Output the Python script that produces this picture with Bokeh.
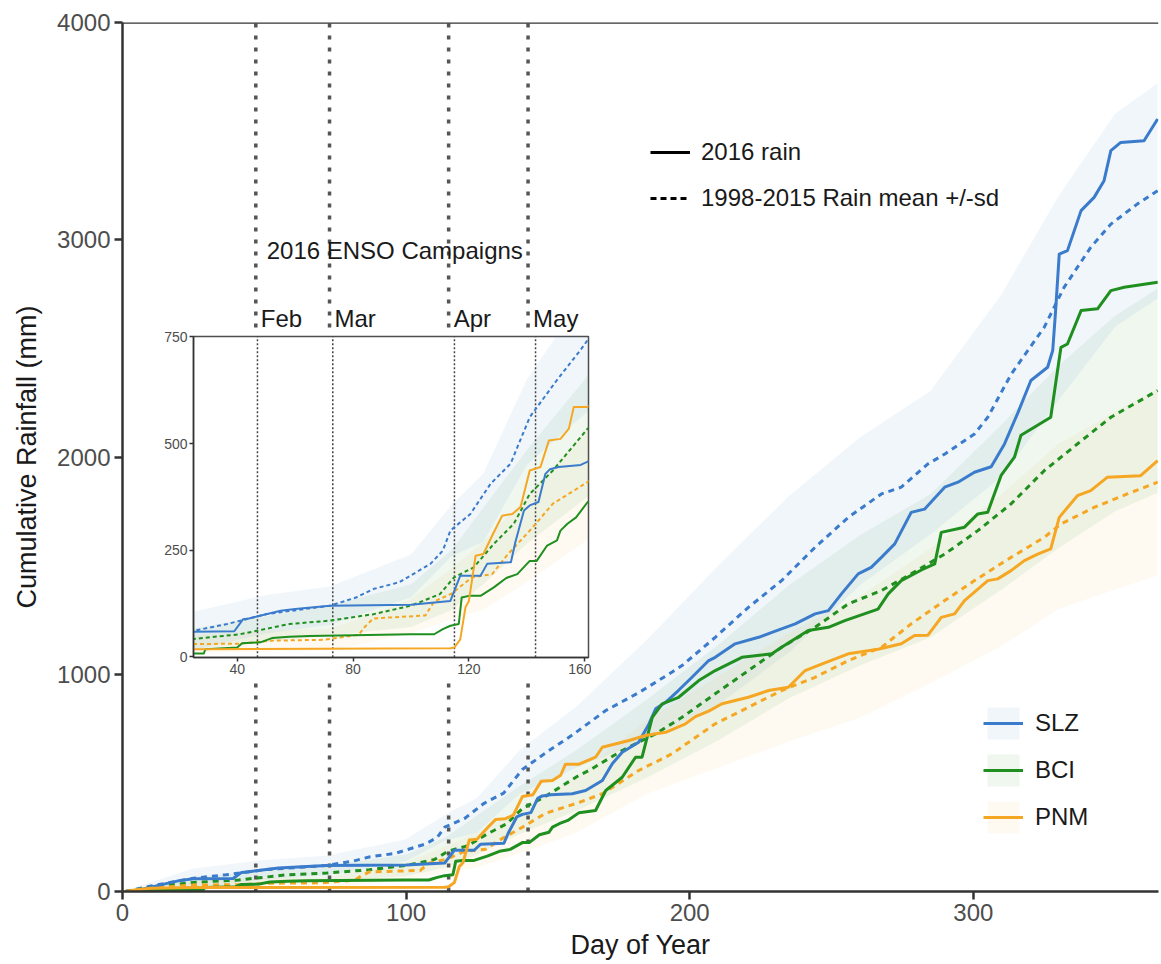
from bokeh.plotting import figure
from bokeh.models import Range1d, Span, Legend, LegendItem, FixedTicker, Label
from bokeh.layouts import column
from bokeh.embed import file_html
from bokeh.resources import INLINE
from bokeh.core.properties import value

FONT = "Liberation Sans"
NAN = float("nan")

stations = ["SLZ", "BCI", "PNM"]
colors = {"SLZ": "#3a7bcc", "BCI": "#1f8f1f", "PNM": "#f5a623"}
band_alpha = {"SLZ": 0.07, "BCI": 0.07, "PNM": 0.06}

# ENSO field campaigns (day of year) and month names
campaign_days = [47, 73, 115, 143]
campaign_months = ["Feb", "Mar", "Apr", "May"]

main_x_ticks = [0, 100, 200, 300]
main_y_ticks = [0, 1000, 2000, 3000, 4000]
inset_x_ticks = [40, 80, 120, 160]
inset_y_ticks = [0, 250, 500, 750]

# 2016 cumulative rainfall (mm)
slz_2016_day = [1, 5, 10, 15, 20, 25, 39, 42, 44, 50, 55, 60, 72, 100, 113.6, 114.5, 117, 124,
                126.3, 134.5, 136, 139, 141, 144, 146.4, 148, 151, 158.6, 163.3, 169.2, 172.7, 176.2,
                182, 185.6, 188, 191.5, 196, 200.8, 206.7, 209, 216, 224.3, 229, 237.2, 244.2, 248.9,
                253.5, 259.4, 264, 267.6, 272.3, 278.1, 282.8, 289.9, 294.6, 300.4, 306.3, 311, 315.6,
                320.3, 326.2, 328, 329.1, 330.3, 333.2, 338, 342.6, 346.1, 348.5, 352, 360.2, 365]
slz_2016_mm = [0, 5, 20, 35, 50, 59, 60, 88, 90, 100, 108, 112, 120, 122, 131, 147, 190, 190,
               218, 222, 268, 343, 355, 363, 429, 440, 445, 450, 465, 511, 588, 641,
               687, 770, 841, 871, 925, 986, 1063, 1078, 1140, 1170, 1193, 1232, 1278, 1293,
               1370, 1462, 1492, 1538, 1600, 1745, 1760, 1861, 1884, 1930, 1955, 2060, 2200,
               2352, 2413, 2490, 2689, 2934, 2950, 3134, 3195, 3272, 3410, 3448, 3456, 3556]

bci_2016_day = [1, 10, 20, 25, 28.5, 29, 40, 41.7, 48, 52, 58, 65, 100, 108, 111, 113.6, 116.5, 117.5,
                120, 124, 128.6, 132.9, 136.7, 141, 143.4, 147, 150.4, 151.6, 154, 157, 161, 166.8,
                170.4, 176.2, 180.9, 183.2, 186.8, 190.3, 196.1, 203.2, 209, 218.4, 229, 232.4, 241.8,
                248.9, 254.7, 266.4, 270, 274.6, 281.7, 286.4, 288.7, 296.9, 301.6, 305.1, 309.8,
                314.5, 316.8, 321.5, 327.3, 330.9, 333.2, 338, 343.8, 348.5, 353.2, 365]
bci_2016_mm = [0, 3, 6, 8, 8, 18, 22, 32, 34, 44, 47, 49, 53, 53, 65, 73, 77, 139,
               143, 143, 163, 185, 194, 225, 225, 261, 273, 296, 312, 327, 363, 373,
               465, 526, 618, 618, 802, 864, 894, 971, 1017, 1078, 1094, 1124, 1201,
               1216, 1247, 1300, 1370, 1431, 1480, 1508, 1653, 1677, 1738, 1746, 1915,
               1999, 2100, 2137, 2183, 2505, 2520, 2674, 2682, 2766, 2781, 2804]

pnm_2016_day = [1, 5, 10, 25, 113.6, 115, 117, 118.8, 120, 122.3, 125, 128.6, 131.5, 135, 137.8,
                141, 144.7, 147.6, 151.6, 154.5, 156.2, 161, 166.8, 169.2, 178.6, 184.4, 191.5,
                198.5, 202, 206.7, 211.4, 220.7, 227.8, 234.8, 240.7, 246.5, 255.9, 266.4, 274.6,
                279.3, 284, 288.7, 293.4, 296.9, 305.1, 308.6, 313.3, 318, 322.7, 327.3, 330.3,
                336.7, 341.4, 347.3, 359, 365]
pnm_2016_mm = [0, 8, 15, 18, 20, 22, 41, 116, 131, 237, 241, 292, 331, 335, 351,
               437, 445, 507, 511, 535, 586, 586, 618, 664, 695, 718, 733,
               772, 805, 830, 864, 894, 925, 940, 1017, 1047, 1094, 1115, 1140,
               1178, 1180, 1262, 1278, 1339, 1431, 1439, 1477, 1523, 1553, 1577, 1722,
               1822, 1845, 1907, 1914, 1983]

# 1998-2015 mean cumulative rainfall (mm)
slz_mean_day = [1, 10, 25, 36.5, 50, 72, 81, 87, 96, 106.7, 111, 113.6, 120.5, 127.5, 134.4, 141,
                150.4, 158.6, 170.4, 182, 193.8, 197.3, 209, 220.7, 232.4, 244.2, 255.9, 267.6,
                274.6, 284, 290, 300.4, 305.1, 313.3, 325, 332, 341.4, 348.5, 357.8, 365]
slz_mean_mm = [0, 25, 61, 77, 100, 120, 139, 159, 175, 218, 249, 296, 335, 406, 453, 562,
               649, 720, 833, 915, 1010, 1040, 1170, 1308, 1431, 1584, 1722, 1830,
               1861, 1968, 2014, 2106, 2183, 2380, 2597, 2781, 2965, 3072, 3164, 3226]

bci_mean_day = [1, 10, 25, 41, 58, 72, 87, 100, 110, 114.8, 121.7, 128.6, 135.5, 141, 149, 161,
                164.5, 176.2, 188, 197.3, 209, 220.7, 232.4, 244.2, 255.9, 267.6, 278.1, 289.9,
                301.6, 313.3, 325, 336.7, 348.5, 365]
bci_mean_mm = [0, 20, 42, 53, 77, 85, 100, 120, 147, 186, 210, 265, 312, 382, 437, 535,
               557, 649, 726, 802, 910, 1017, 1124, 1216, 1324, 1385, 1462, 1553,
               1661, 1784, 1937, 2060, 2183, 2306]

pnm_mean_day = [1, 10, 25, 41, 52, 70, 82, 84, 87, 105, 108, 114, 121, 128, 133, 141, 149, 161,
                169.2, 182, 193.8, 209, 220.7, 232.4, 244.2, 255.9, 267.6, 278.1, 289.9, 300.4,
                313.3, 325, 330.9, 342.6, 354.3, 365]
pnm_mean_mm = [0, 15, 30, 31, 38, 40, 52, 70, 90, 97, 130, 148, 186, 194, 237, 296, 359, 410,
               450, 557, 634, 772, 848, 925, 986, 1063, 1124, 1232, 1339, 1431,
               1538, 1630, 1692, 1768, 1830, 1884]

# mean -/+ sd envelopes (mm)
band_day = [1, 25, 50, 72, 100, 114, 125, 140, 160, 185, 210, 235, 260, 285, 310, 330, 350, 365]
slz_band_lo = [0, 16, 55, 75, 140, 236, 270, 450, 570, 700, 860, 1100, 1410, 1645, 1910, 2260, 2600, 2730]
slz_band_hi = [5, 106, 145, 165, 240, 356, 430, 650, 850, 1160, 1500, 1820, 2090, 2305, 2750, 3200, 3580, 3720]
bci_band_lo = [0, 17, 35, 50, 70, 110, 170, 265, 370, 525, 695, 890, 1040, 1170, 1390, 1580, 1750, 1836]
bci_band_hi = [3, 67, 95, 120, 170, 250, 350, 485, 650, 885, 1135, 1410, 1640, 1830, 2150, 2420, 2650, 2776]
pnm_band_lo = [0, 10, 12, 15, 55, 88, 110, 175, 270, 450, 570, 690, 800, 960, 1130, 1300, 1390, 1454]
pnm_band_hi = [3, 50, 62, 65, 135, 208, 270, 375, 530, 790, 990, 1190, 1360, 1580, 1830, 2060, 2210, 2314]

rain = {"SLZ": (slz_2016_day, slz_2016_mm), "BCI": (bci_2016_day, bci_2016_mm),
        "PNM": (pnm_2016_day, pnm_2016_mm)}
mean = {"SLZ": (slz_mean_day, slz_mean_mm), "BCI": (bci_mean_day, bci_mean_mm),
        "PNM": (pnm_mean_day, pnm_mean_mm)}
band = {"SLZ": (slz_band_lo, slz_band_hi), "BCI": (bci_band_lo, bci_band_hi),
        "PNM": (pnm_band_lo, pnm_band_hi)}

# main-panel rainfall span hidden behind the inset (campaign markers break there)
inset_gap_mm = (957, 2596)


def style_axes(fig, tick_size, tick_out, line_w, standoff):
    for ax in (fig.xaxis[0], fig.yaxis[0]):
        ax.axis_line_color = "#333333"
        ax.axis_line_width = line_w
        ax.major_tick_line_color = "#333333"
        ax.major_tick_line_width = line_w
        ax.major_tick_out = tick_out
        ax.major_tick_in = 0
        ax.minor_tick_line_color = None
        ax.major_label_text_font = FONT
        ax.major_label_text_font_size = tick_size
        ax.major_label_text_color = "#4d4d4d"
        ax.major_label_standoff = standoff
        ax.axis_label_text_font = FONT
        ax.axis_label_text_font_style = "normal"
        ax.axis_label_text_color = "#1a1a1a"
    fig.xgrid.visible = False
    fig.ygrid.visible = False


def draw_bands(fig):
    bands = {}
    for s in stations:
        lo, hi = band[s]
        bands[s] = fig.varea(x=band_day, y1=lo, y2=hi, fill_color=colors[s],
                             fill_alpha=band_alpha[s])
    return bands


def draw_lines(fig, lw, dash):
    for s in stations:
        d, v = mean[s]
        fig.line(d, v, line_color=colors[s], line_width=lw, line_dash=dash)
    solids = {}
    for s in stations:
        d, v = rain[s]
        solids[s] = fig.line(d, v, line_color=colors[s], line_width=lw, line_join="round")
    return solids


n_c = len(campaign_days)

# ---------------- main panel ----------------
p = figure(width=1161, height=964, x_range=Range1d(0, 365.3), y_range=Range1d(0, 4000),
           output_backend="svg", toolbar_location=None,
           min_border_left=122, min_border_right=0, min_border_top=22, min_border_bottom=73)
p.outline_line_color = None
p.background_fill_color = "white"
p.xaxis.ticker = FixedTicker(ticks=main_x_ticks)
p.yaxis.ticker = FixedTicker(ticks=main_y_ticks)
p.xaxis.axis_label = "Day of Year"
p.yaxis.axis_label = "Cumulative Rainfall (mm)"
style_axes(p, "24px", 8, 2.5, 4)
p.xaxis.axis_label_text_font_size = "27px"
p.yaxis.axis_label_text_font_size = "27px"
p.xaxis.axis_label_standoff = 6
p.yaxis.axis_label_standoff = 12
p.add_layout(Span(location=4000, dimension="width", line_color="#333333", line_width=2.5))

bands = draw_bands(p)
# campaign markers, below and above the inset
p.segment(x0=campaign_days, y0=[0] * n_c, x1=campaign_days, y1=[inset_gap_mm[0]] * n_c,
          line_color="#555555", line_width=3.5, line_dash="4 8")
p.segment(x0=campaign_days, y0=[inset_gap_mm[1]] * n_c, x1=campaign_days, y1=[4000] * n_c,
          line_color="#555555", line_width=3.5, line_dash="4 8")
solids = draw_lines(p, 3, "6 5")

month_label_y = 2637
p.text(x=campaign_days, y=[month_label_y] * n_c, text=campaign_months,
       x_offset=5, text_font=value(FONT), text_font_size="24px",
       text_baseline="middle", text_color="#1a1a1a")
p.add_layout(Label(x=96, y=2950, text="2016 ENSO Campaigns", text_align="center",
                   text_baseline="middle", text_font=FONT, text_font_size="24px",
                   text_color="#1a1a1a"))

# line-type key
key_solid = p.line(x=[NAN], y=[NAN], line_color="black", line_width=3)
key_dash = p.line(x=[NAN], y=[NAN], line_color="black", line_width=3, line_dash="6 4")
type_legend = Legend(items=[LegendItem(label="2016 rain", renderers=[key_solid]),
                            LegendItem(label="1998-2015 Rain mean +/-sd", renderers=[key_dash])],
                     location=(528, 678), glyph_width=40, glyph_height=30, spacing=16,
                     padding=0, margin=0, label_standoff=11, border_line_color=None,
                     background_fill_alpha=0, label_text_font=FONT,
                     label_text_font_size="24px", label_text_color="#1a1a1a")
p.add_layout(type_legend)

# station key
site_legend = Legend(items=[LegendItem(label=s, renderers=[bands[s], solids[s]]) for s in stations],
                     location=(861, 54), glyph_width=40, glyph_height=40, spacing=7,
                     padding=0, margin=0, label_standoff=12, border_line_color=None,
                     background_fill_alpha=0, label_text_font=FONT,
                     label_text_font_size="24px", label_text_color="#1a1a1a")
p.add_layout(site_legend)

# ---------------- inset: Jan-May close-up ----------------
inset = figure(width=520, height=356, x_range=Range1d(24.92, 161.28), y_range=Range1d(-1.5, 751),
               output_backend="svg", toolbar_location=None,
               min_border_left=122, min_border_right=3, min_border_top=8, min_border_bottom=27)
inset.styles = {"position": "absolute", "left": "71px", "top": "328px"}
inset.outline_line_color = "#4d4d4d"
inset.outline_line_width = 1.5
inset.outline_line_alpha = 1
inset.background_fill_color = "white"
inset.border_fill_alpha = 0
inset.xaxis.ticker = FixedTicker(ticks=inset_x_ticks)
inset.yaxis.ticker = FixedTicker(ticks=inset_y_ticks)
style_axes(inset, "14px", 4, 1.5, 2)
draw_bands(inset)
inset.segment(x0=campaign_days, y0=[-10] * n_c, x1=campaign_days, y1=[760] * n_c,
              line_color="#444444", line_width=1.5, line_dash="2 2")
draw_lines(inset, 2, "4 3")

root = column(p, inset)
open("out.html", "w").write(file_html(root, INLINE))
